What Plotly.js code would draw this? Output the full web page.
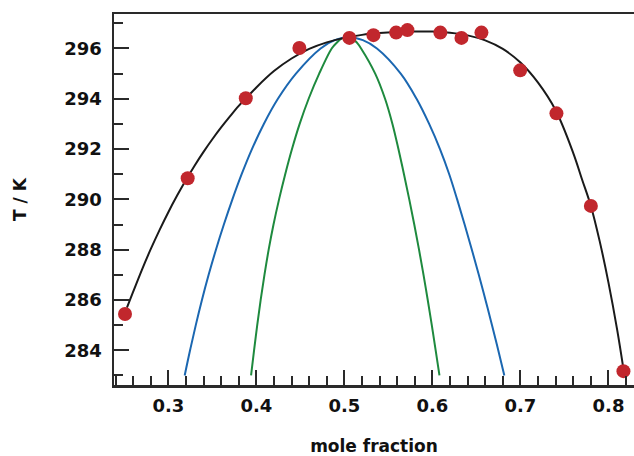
<!DOCTYPE html>
<html>
<head>
<meta charset="utf-8">
<script src="https://cdn.plot.ly/plotly-3.0.1.min.js"></script>
<style>html,body{margin:0;padding:0;background:#fff}#chart{width:634px;height:456px}</style>
</head>
<body>
<div id="chart"></div>
<script>
// measured data points
const dataX = [0.2508, 0.322, 0.388, 0.4489, 0.5057, 0.533, 0.5588, 0.5716, 0.609, 0.633, 0.6557, 0.6997, 0.7409, 0.780, 0.817];
const dataT = [285.44, 290.84, 294.02, 296.02, 296.42, 296.53, 296.63, 296.73, 296.63, 296.42, 296.63, 295.13, 293.42, 289.74, 283.17];

// black fitted curve
const fitX = [0.253, 0.26, 0.27, 0.28, 0.29, 0.30, 0.31, 0.32, 0.33, 0.34, 0.35, 0.36, 0.37, 0.38, 0.39, 0.40, 0.42, 0.44, 0.46, 0.48, 0.50, 0.52, 0.54, 0.56, 0.58, 0.60, 0.62, 0.64, 0.66, 0.68, 0.70, 0.72, 0.74, 0.76, 0.77, 0.78, 0.79, 0.80, 0.81, 0.8168];
const fitT = [285.7, 286.32, 287.2, 288.02, 288.78, 289.49, 290.15, 290.77, 291.35, 291.89, 292.39, 292.86, 293.30, 293.72, 294.08, 294.45, 295.1, 295.6, 295.98, 296.24, 296.42, 296.54, 296.61, 296.65, 296.67, 296.67, 296.62, 296.52, 296.32, 295.98, 295.44, 294.64, 293.54, 291.84, 290.79, 289.74, 288.34, 286.69, 284.79, 283.3];

// blue curve
const blueX = [0.3186, 0.3247, 0.3312, 0.3382, 0.3458, 0.3541, 0.3631, 0.3728, 0.3833, 0.395, 0.4085, 0.4245, 0.445, 0.473, 0.489, 0.505, 0.521, 0.537, 0.564, 0.582, 0.5963, 0.6086, 0.6191, 0.6281, 0.6366, 0.6448, 0.6527, 0.6603, 0.6677, 0.6748, 0.6817];
const blueT = [283, 284, 285, 286, 287, 288, 289, 290, 291, 292, 293, 294, 295, 296, 296.33, 296.45, 296.33, 296, 295, 294, 293, 292, 291, 290, 289, 288, 287, 286, 285, 284, 283];

// green curve
const greenX = [0.394, 0.3974, 0.401, 0.4049, 0.4092, 0.414, 0.4195, 0.4258, 0.4328, 0.4405, 0.4492, 0.4594, 0.4714, 0.4856, 0.491, 0.497, 0.503, 0.509, 0.5145, 0.519, 0.535, 0.5462, 0.5546, 0.5614, 0.5677, 0.5737, 0.5794, 0.5848, 0.5899, 0.5947, 0.5993, 0.6037, 0.608];
const greenT = [283, 284, 285, 286, 287, 288, 289, 290, 291, 292, 293, 294, 295, 296, 296.22, 296.4, 296.45, 296.4, 296.22, 296, 295, 294, 293, 292, 291, 290, 289, 288, 287, 286, 285, 284, 283];

const xTicks = [0.3, 0.4, 0.5, 0.6, 0.7, 0.8];
const xTickText = ['0.3', '0.4', '0.5', '0.6', '0.7', '0.8'];
const yTicks = [284, 286, 288, 290, 292, 294, 296];
const yTickText = ['284', '286', '288', '290', '292', '294', '296'];

const FONT = 'DejaVu Sans, sans-serif';
const AX = '#2a2a2a';

const traces = [
  {x: greenX, y: greenT, mode: 'lines', line: {color: '#1e8a3e', width: 2, shape: 'spline', smoothing: 1}, hoverinfo: 'skip'},
  {x: blueX, y: blueT, mode: 'lines', line: {color: '#1b67b1', width: 2, shape: 'spline', smoothing: 1}, hoverinfo: 'skip'},
  {x: fitX, y: fitT, mode: 'lines', line: {color: '#1a1a1a', width: 2, shape: 'spline', smoothing: 1}, hoverinfo: 'skip'},
  {x: dataX, y: dataT, mode: 'markers', marker: {color: '#c1272d', size: 14}}
];

const layout = {
  width: 634, height: 456,
  margin: {l: 114, r: 0, t: 14, b: 71},
  paper_bgcolor: '#fff', plot_bgcolor: '#fff',
  showlegend: false,
  xaxis: {
    range: [0.2383, 0.829],
    showgrid: false, zeroline: false,
    showline: true, linecolor: AX, linewidth: 2.5, mirror: true,
    ticks: 'inside', ticklen: 15, tickwidth: 2, tickcolor: AX,
    tickvals: xTicks, ticktext: xTickText,
    minor: {dtick: 0.02, tick0: 0, ticks: 'inside', ticklen: 9, tickwidth: 2, tickcolor: AX, showgrid: false},
    tickfont: {family: FONT, size: 18, color: '#111', weight: 'bold'},
    ticklabelstandoff: 3,
    title: {text: 'mole fraction', font: {family: FONT, size: 17, color: '#111', weight: 'bold'}, standoff: 26}
  },
  yaxis: {
    range: [282.62, 297.37],
    showgrid: false, zeroline: false,
    showline: true, linecolor: AX, linewidth: 2.5,
    ticks: 'inside', ticklen: 15, tickwidth: 2, tickcolor: AX,
    tickvals: yTicks, ticktext: yTickText,
    minor: {dtick: 1, tick0: 0, ticks: 'inside', ticklen: 9, tickwidth: 2, tickcolor: AX, showgrid: false},
    tickfont: {family: FONT, size: 18, color: '#111', weight: 'bold'},
    ticklabelstandoff: 6,
    title: {text: 'T / K', font: {family: FONT, size: 17, color: '#111', weight: 'bold'}, standoff: 34}
  }
};

Plotly.newPlot('chart', traces, layout, {displayModeBar: false, staticPlot: true});
</script>
</body>
</html>
